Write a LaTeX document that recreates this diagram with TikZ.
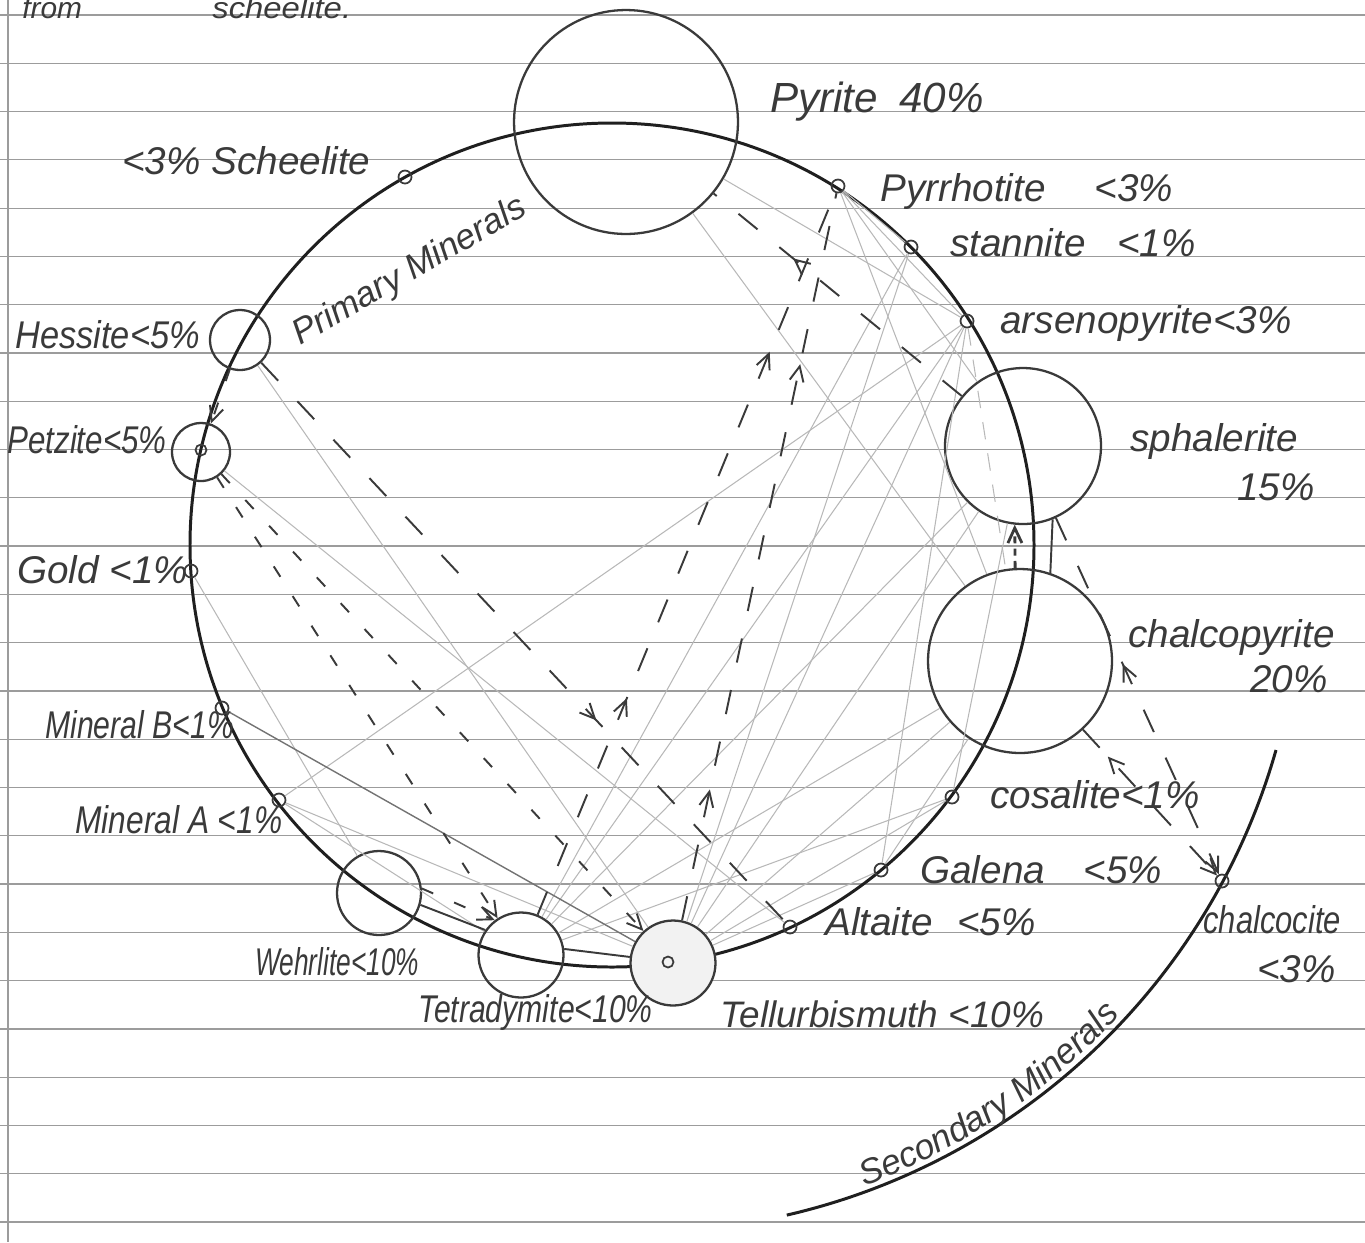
\documentclass[tikz,border=0pt]{standalone}
\usepackage{fontspec}
\setmainfont{Liberation Sans}
\usetikzlibrary{arrows.meta,decorations.markings,decorations.text}
\definecolor{pencil}{HTML}{3a3a3a}
\definecolor{ruleGrey}{HTML}{9c9c9c}
\tikzset{
  barb/.tip={Straight Barb[length=3mm,width=2.8mm]},
  >={barb},
  ring/.style={draw=black!88, line width=1.7pt},
  mineral/.style={circle, draw=pencil, line width=1.3pt, inner sep=0pt},
  dot/.style={circle, draw=pencil, line width=1pt, inner sep=0pt, minimum size=0.26cm},
  lab/.style={font=\fontsize{#1}{#1}\selectfont\itshape, text=pencil, anchor=base west, inner sep=0pt},
  lab/.default=22,
  rule/.style={draw=ruleGrey, line width=0.7pt},
  lite/.style={draw=black!28, line width=0.6pt},
  grey/.style={draw=black!55, line width=0.8pt},
  dark/.style={draw=pencil, line width=1.1pt},
  dashA/.style={dark, dash pattern=on 7pt off 13pt},
  dashB/.style={dark, dash pattern=on 14pt off 16pt},
  midtip/.style={postaction={decorate},
    decoration={markings, mark=at position #1 with {\arrow{barb}}}},
  midtips/.style 2 args={postaction={decorate},
    decoration={markings, mark=at position #1 with {\arrow{barb}},
                mark=at position #2 with {\arrow{barb}}}},
  backtip/.style={postaction={decorate},
    decoration={markings, mark=at position #1 with {\arrowreversed{barb}}}},
}
% narrow handwriting
\newcommand{\squeeze}[2]{\scalebox{#1}[1]{#2}}

\begin{document}
\begin{tikzpicture}[x=0.02cm, y=-0.02cm]
  \useasboundingbox (0,0) rectangle (1365,1242);
  % ruled paper
  \foreach \k in {0,...,25}
    \draw[rule] (0,{15+48.28*\k}) -- (1365,{15+48.28*\k});
  \draw[rule] (8,0) -- (8,1242);

  % primary and secondary rings
  \draw[ring] (612,545) circle [radius=422];
  \coordinate (sec0) at (1276,750);
  \draw[ring] (sec0) arc [start angle=15.9, end angle=77, radius=664];

  % large minerals
  \node[mineral, minimum size=4.48cm] (pyr) at (626,122) {};
  \node[mineral, minimum size=1.2cm] (hess) at (240,340) {};
  \node[mineral, minimum size=1.16cm] (petz) at (201,452) {};
  \node[mineral, minimum size=3.12cm] (sphal) at (1023,446) {};
  \node[mineral, minimum size=3.68cm] (chalco) at (1020,661) {};
  \node[mineral, minimum size=1.68cm] (wehr) at (379,893) {};
  \node[mineral, minimum size=1.7cm] (tetra) at (521,955) {};
  \node[mineral, minimum size=1.7cm, fill=black!5] (bis) at (673,963) {};

  % small minerals
  \node[dot] (scheel) at (405,177) {};
  \node[dot] (pyrrh) at (838,186) {};
  \node[dot] (stann) at (911,247) {};
  \node[dot] (arseno) at (967,321) {};
  \node[dot] (gold) at (191,571) {};
  \node[dot] (minB) at (222,708) {};
  \node[dot] (minA) at (279,800) {};
  \node[dot] (cosal) at (952,797) {};
  \node[dot] (galena) at (881,870) {};
  \node[dot] (alta) at (790,927) {};
  \node[dot] (chalcoc) at (1222,881) {};
  \node[dot, minimum size=0.22cm] (petzdot) at (201,450) {};
  \node[dot, minimum size=0.22cm] (bisdot) at (668,962) {};

  % light web
  \draw[lite] (pyr) -- (arseno);
  \draw[lite] (pyr) -- (chalco);
  \draw[lite] (pyrrh) -- (stann);
  \draw[lite] (pyrrh) -- (arseno);
  \draw[lite] (pyrrh) -- (sphal);
  \draw[lite] (pyrrh) -- (chalco);
  \draw[lite] (stann) -- (tetra);
  \draw[lite] (stann) -- (bis);
  \draw[lite] (arseno) -- (tetra);
  \draw[lite] (arseno) -- (bis);
  \draw[lite, dash pattern=on 10pt off 8pt] (arseno) -- (chalco);
  \draw[lite] (tetra) -- (sphal);
  \draw[lite] (tetra) -- (chalco);
  \draw[lite] (tetra) -- (cosal);
  \draw[lite] (bis) -- (sphal);
  \draw[lite] (bis) -- (chalco);
  \draw[lite] (bis) -- (cosal);
  \draw[lite] (bis) -- (galena);
  \draw[lite] (galena) -- (arseno);
  \draw[lite] (galena) -- (chalco);
  \draw[lite] (cosal) -- (sphal);
  \draw[lite] (petz) -- (alta);
  \draw[lite] (hess) -- (bis);
  \draw[lite] (gold) -- (wehr);
  \draw[lite] (minA) -- (tetra);
  \draw[lite] (minA) -- (bis);
  \draw[lite] (minA) -- (arseno);
  \draw[grey] (minB) -- (bis);

  % dark paths
  \draw[dashA, ->] (hess) -- (petz);
  \draw[dashB, midtip=0.64] (hess) -- (alta);
  \draw[dashA, ->] (petz) -- (tetra);
  \draw[dashA, ->] (petz) -- (bis);
  \draw[dashA, ->] (wehr.6) -- (tetra.127);
  \draw[dark] (wehr.-16) -- (tetra.145);
  \draw[dark] (tetra.8) -- (bis.172);
  \draw[dashB, midtip=0.68] (sphal) -- (pyr);
  \draw[dashB, midtips={0.3}{0.78}] (tetra) -- (pyrrh);
  \draw[dashB, midtips={0.18}{0.765}] (bis) -- (pyrrh);
  \draw[dark, line width=1.6pt, dash pattern=on 4pt off 3pt, ->] (chalco.93) -- (sphal.-96);
  \draw[dark] (chalco.71) -- (sphal.-68);
  \draw[dashB, ->, backtip=0.185] (chalco) -- (chalcoc);
  \draw[dashB, ->, backtip=0.41] (sphal) -- (chalcoc);

  % labels
  \node[lab=17] (note1) at (22,18) {from};
  \node[lab=17] (note2) at (212,18) {\squeeze{1.1}{scheelite.}};
  \node[lab] (lScheel) at (122,174) {<3\% Scheelite};
  \node[lab=20, anchor=center, rotate=30] (lPrim) at (410,272) {Primary Minerals};
  \node[lab=24] (lPyr) at (770,112) {Pyrite\enspace 40\%};
  \node[lab] (lPyrrh) at (880,201) {Pyrrhotite\hspace{28pt}<3\%};
  \node[lab] (lStann) at (950,256) {stannite\hspace{18pt}<1\%};
  \node[lab] (lArseno) at (1000,333) {arsenopyrite<3\%};
  \node[lab] (lSphal) at (1130,451) {sphalerite};
  \node[lab] (lSphalp) at (1237,500) {15\%};
  \node[lab] (lChalco) at (1128,647) {chalcopyrite};
  \node[lab] (lChalcop) at (1250,692) {20\%};
  \node[lab] (lCosal) at (990,808) {cosalite<1\%};
  \node[lab] (lGalena) at (920,883) {Galena\hspace{22pt}<5\%};
  \node[lab] (lAlta) at (825,935) {Altaite\hspace{14pt}<5\%};
  \node[lab] (lChalcoc) at (1203,933) {\squeeze{0.8}{chalcocite}};
  \node[lab] (lChalcocp) at (1257,982) {<3\%};
  \node[lab=21] (lBis) at (720,1027) {Tellurbismuth <10\%};
  \node[lab] (lTetra) at (418,1022) {\squeeze{0.78}{Tetradymite<10\%}};
  \node[lab] (lWehr) at (255,975) {\squeeze{0.68}{Wehrlite<10\%}};
  \node[lab] (lMinA) at (75,833) {\squeeze{0.82}{Mineral A <1\%}};
  \node[lab] (lMinB) at (45,738) {\squeeze{0.78}{Mineral B<1\%}};
  \node[lab] (lGold) at (17,583) {Gold <1\%};
  \node[lab] (lPetz) at (7,453) {\squeeze{0.81}{Petzite<5\%}};
  \node[lab] (lHess) at (15,348) {\squeeze{0.89}{Hessite<5\%}};
  % secondary label follows the ring
  \coordinate (secT) at (835,1196);
  \path[decorate, decoration={text along path, text align=center,
      text={|\fontsize{20}{20}\selectfont\itshape\color{pencil}|Secondary Minerals}}]
    (secT) arc [start angle=72.5, end angle=40, radius=657];
\end{tikzpicture}
\end{document}
